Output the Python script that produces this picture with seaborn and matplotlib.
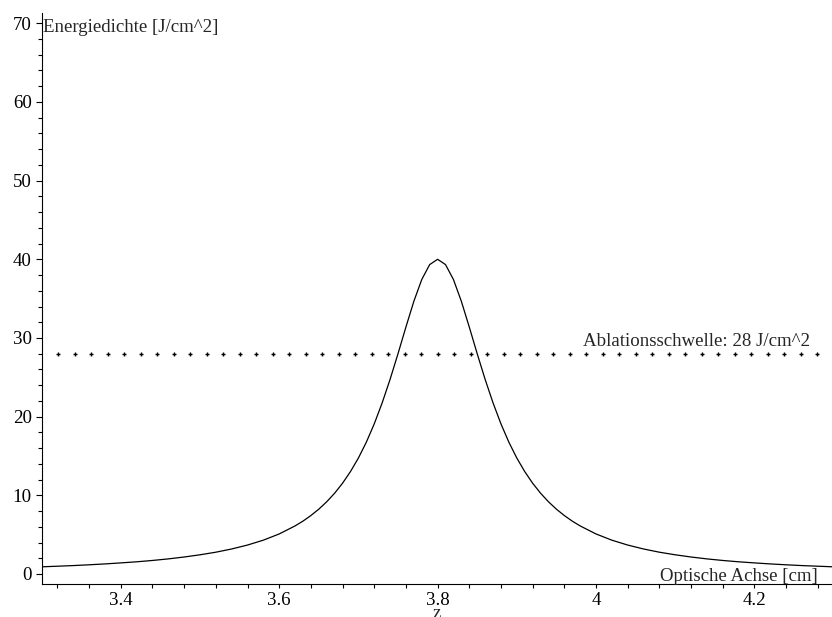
import numpy as np
import pandas as pd
import matplotlib
matplotlib.use("Agg")
import matplotlib.pyplot as plt
from matplotlib.ticker import MultipleLocator
import seaborn as sns

# ---- data ----
z_cm = [3.30, 3.32, 3.34, 3.36, 3.38, 3.40, 3.42, 3.44, 3.46, 3.48, 3.50,
        3.52, 3.54, 3.56, 3.58, 3.60, 3.62,
        3.63, 3.64, 3.65, 3.66, 3.67, 3.68, 3.69, 3.70, 3.71, 3.72, 3.73,
        3.74, 3.75, 3.76, 3.77, 3.78, 3.79, 3.80, 3.81, 3.82, 3.83, 3.84,
        3.85, 3.86, 3.87, 3.88, 3.89, 3.90, 3.91, 3.92, 3.93, 3.94, 3.95,
        3.96, 3.97,
        3.98, 4.00, 4.02, 4.04, 4.06, 4.08, 4.10, 4.12, 4.14, 4.16, 4.18,
        4.20, 4.22, 4.24, 4.26, 4.28, 4.30]
energy = [0.91, 0.99, 1.07, 1.17, 1.28, 1.41, 1.55, 1.72, 1.92, 2.16, 2.44,
          2.77, 3.18, 3.68, 4.30, 5.09, 6.11,
          6.72, 7.43, 8.24, 9.18, 10.27, 11.54, 13.02, 14.74, 16.75, 19.08, 21.75,
          24.74, 28.00, 31.39, 34.66, 37.43, 39.33, 40.00, 39.33, 37.43, 34.66, 31.39,
          28.00, 24.74, 21.75, 19.08, 16.75, 14.74, 13.02, 11.54, 10.27, 9.18, 8.24,
          7.43, 6.72,
          6.11, 5.09, 4.30, 3.68, 3.18, 2.77, 2.44, 2.16, 1.92, 1.72, 1.55,
          1.41, 1.28, 1.17, 1.07, 0.99, 0.91]
threshold = 28.0
x_ticks = [3.4, 3.6, 3.8, 4.0, 4.2]
x_tick_labels = ["3.4", "3.6", "3.8", "4", "4.2"]
y_ticks = [0, 10, 20, 30, 40, 50, 60, 70]
y_tick_labels = ["0", "10", "20", "30", "40", "50", "60", "70"]

sns.set_theme(style="white")
plt.rcParams["font.family"] = ["Liberation Serif", "DejaVu Serif"]

W, H = 832, 617
fig = plt.figure(figsize=(W / 100, H / 100), dpi=100)
left_px, bottom_px, top_px = 41.6, 584.3, 13.3
ax = fig.add_axes([left_px / W, (H - bottom_px) / H, 1 - left_px / W, (bottom_px - top_px) / H])

xmin, xmax = 3.3, 3.3 + (W - left_px) / 792.0
ymin, ymax = -1.31, 71.27

df = pd.DataFrame({"z": z_cm, "E": energy})
sns.lineplot(data=df, x="z", y="E", ax=ax, color="black", linewidth=0.9,
             sort=False, estimator=None)

# dotted threshold line made of tiny crosses
thr_x = np.arange(3.3, 4.3 + 1e-9, 1 / 48.0)[1:]
thr_df = pd.DataFrame({"z": thr_x, "E": [threshold] * len(thr_x)})
ax.plot(thr_df["z"], thr_df["E"], linestyle="none", marker="+",
        markersize=3.4, markeredgewidth=1.0, color="black", clip_on=False)

ax.set_xlim(xmin, xmax)
ax.set_ylim(ymin, ymax)
ax.set_xlabel("")
ax.set_ylabel("")

for s in ["top", "right"]:
    ax.spines[s].set_visible(False)
for s in ["left", "bottom"]:
    ax.spines[s].set_color("black")
    ax.spines[s].set_linewidth(0.8)

fs = 13.6
ax.set_xticks(x_ticks)
ax.set_xticklabels(x_tick_labels)
ax.set_yticks(y_ticks)
ax.set_yticklabels(y_tick_labels)
ax.xaxis.set_minor_locator(MultipleLocator(0.04))
ax.yaxis.set_minor_locator(MultipleLocator(2))
ax.tick_params(axis="x", which="both", direction="out", length=3.0, width=0.8,
               colors="black", labelsize=fs, pad=2.5, bottom=True)
ax.tick_params(axis="y", which="major", direction="out", length=4.5, width=0.8,
               colors="black", labelsize=fs, pad=2.5, left=True)
ax.tick_params(axis="y", which="minor", direction="out", length=2.6, width=0.8,
               colors="black", left=True)
ax.grid(False)

ax.text(3.302, 68.9, "Energiedichte [J/cm^2]", fontsize=fs, ha="left", va="baseline")
ax.text(4.280, -0.95, "Optische Achse [cm]", fontsize=fs, ha="right", va="baseline")
ax.text(3.984, 28.97, "Ablationsschwelle: 28 J/cm^2", fontsize=fs, ha="left", va="baseline")
fig.text(437 / W, 1 - 618.0 / H, "z", fontsize=fs, ha="center", va="baseline")

fig.savefig("out.png", dpi=100)
